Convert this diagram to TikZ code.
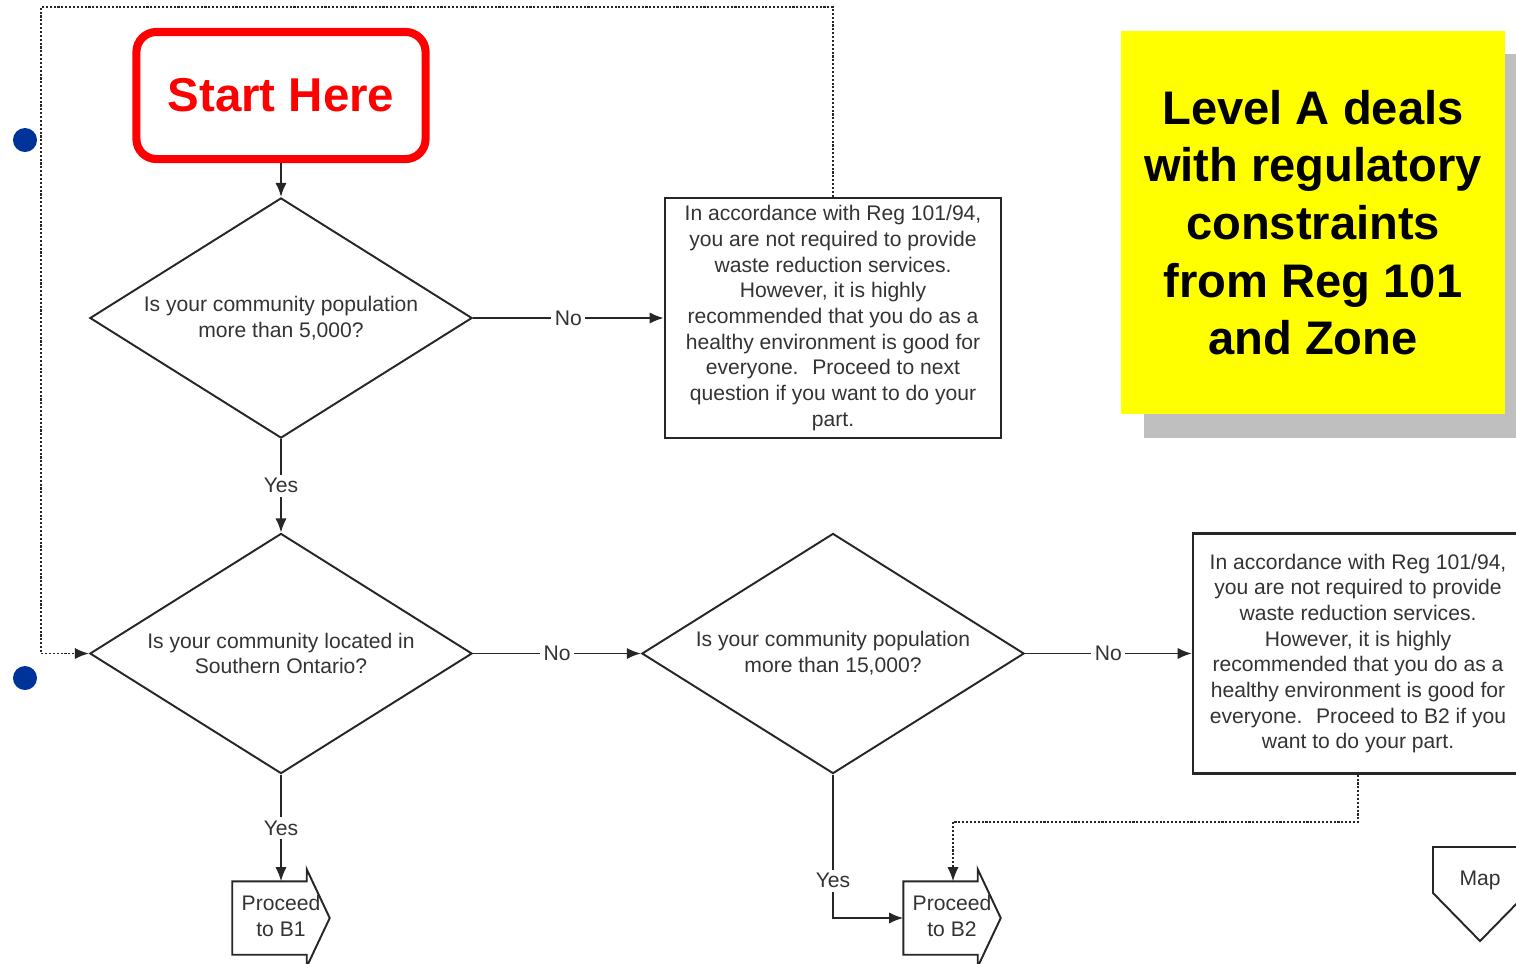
\documentclass[tikz,border=0pt]{standalone}
\usepackage{fontspec}
\setmainfont{Liberation Sans}
\usetikzlibrary{arrows.meta, calc, positioning, shapes.geometric, shadows}

\definecolor{noteyellow}{RGB}{255,255,0}
\definecolor{dotblue}{RGB}{0,51,153}
\definecolor{startred}{RGB}{255,0,0}

\begin{document}
\begin{tikzpicture}[
    x=0.01cm, y=-0.01cm, % pixel grid, y pointing down
    >={Latex[length=4pt,width=3.2pt]}, % Set default arrow tip style
    line/.style={draw=black!85, line width=0.55pt},
    arr/.style={line, ->},
    dotline/.style={line, line width=0.5pt, dash pattern=on 0.6pt off 0.5pt},
    small/.style={font=\fontsize{6}{7.3}\selectfont, text=black!80, align=center},
    question/.style={diamond, aspect=1.592, line, small, inner sep=0pt, minimum width=3.82cm, minimum height=2.4cm},
    infobox/.style={rectangle, line, line width=0.65pt, small, inner sep=0pt, minimum height=2.4cm},
    lbl/.style={small, fill=white, inner sep=1pt},
    startbox/.style={rectangle, rounded corners=0.2cm, draw=startred, line width=2.3pt,
        minimum width=2.89cm, minimum height=1.27cm, text=startred,
        font=\bfseries\fontsize{13.5}{16}\selectfont},
    note/.style={rectangle, fill=noteyellow, minimum width=3.84cm, minimum height=3.83cm,
        align=center, font=\bfseries\fontsize{13.4}{16.4}\selectfont,
        drop shadow={shadow xshift=0.235cm, shadow yshift=-0.235cm, fill=black!25, opacity=1}},
    procbody/.style={rectangle, minimum width=0.73cm, minimum height=0.72cm, inner sep=0pt},
    dot/.style={circle, fill=dotblue, minimum size=0.24cm, inner sep=0pt}
]
    \useasboundingbox (0,0) rectangle (1516,963);

    % --- Nodes ---
    \node[startbox] (start) at (281,95.5) {Start Here};
    \node[question] (d1) at (281,318) {Is your community population\\more than 5,000?};
    \node[question] (d2) at (281,653.5) {Is your community located in\\Southern Ontario?};
    \node[question] (d3) at (833,653.5) {Is your community population\\more than 15,000?};

    \node[infobox, minimum width=3.36cm] (box1) at (833,318) {In accordance with Reg 101/94,\\you are not required to provide\\waste reduction services.\\However, it is highly\\recommended that you do as a\\healthy environment is good for\\everyone.~ Proceed to next\\question if you want to do your\\part.};
    \node[infobox, minimum width=3.3cm] (box2) at (1358,653.5) {In accordance with Reg 101/94,\\you are not required to provide\\waste reduction services.\\However, it is highly\\recommended that you do as a\\healthy environment is good for\\everyone.~ Proceed to B2 if you\\want to do your part.};

    \node[note] (levelA) at (1313,222.5) {Level A deals\\with regulatory\\constraints\\from Reg 101\\and Zone};

    % Proceed arrows (body + text)
    \node[procbody] (b1) at (269.5,918) {};
    \node[small] (b1t) at (281,916) {Proceed\\to B1};
    \node[procbody] (b2) at (940.5,918) {};
    \node[small] (b2t) at (952,916) {Proceed\\to B2};

    % Off-page connector
    \node[small] (map) at (1480,880) {Map};

    \node[dot] (dotA) at (25,140) {};
    \node[dot] (dotB) at (25,678) {};

    \coordinate (looptop) at (41,7);
    \coordinate (b2hook) at (953,822);

    % --- Outlines ---
    \foreach \b in {b1,b2}
        \draw[line] (\b.north west) -- (\b.north east) -- ++(0,-12) -- ($(\b.east)+(23,0)$)
            -- ($(\b.south east)+(0,12)$) -- (\b.south east) -- (\b.south west) -- cycle;
    \draw[line] ($(map)+(-47,-33)$) -- ($(map)+(47,-33)$) -- ($(map)+(47,13)$)
        -- ($(map)+(0,61)$) -- ($(map)+(-47,13)$) -- cycle;

    % --- Connectors ---
    \draw[arr] (start.south) -- (d1.north);
    \draw[arr] (d1.east) -- node[lbl] {No} (box1.west);
    \draw[arr] (d1.south) -- node[lbl] {Yes} (d2.north);
    \draw[arr] (d2.east) -- node[lbl] {No} (d3.west);
    \draw[arr] (d3.east) -- node[lbl] {No} (box2.west);
    \draw[arr] (d2.south) -- node[lbl] {Yes} (d2.south |- b1.north);
    \draw[arr] (d3.south) |- node[lbl, pos=0.37] {Yes} (b2.west);

    % dotted back-loops
    \draw[dotline, ->] (box1.north) |- (looptop) |- (d2.west);
    \draw[dotline, ->] (box2.south) |- (b2hook) -- (b2hook |- b2.north);

\end{tikzpicture}
\end{document}
